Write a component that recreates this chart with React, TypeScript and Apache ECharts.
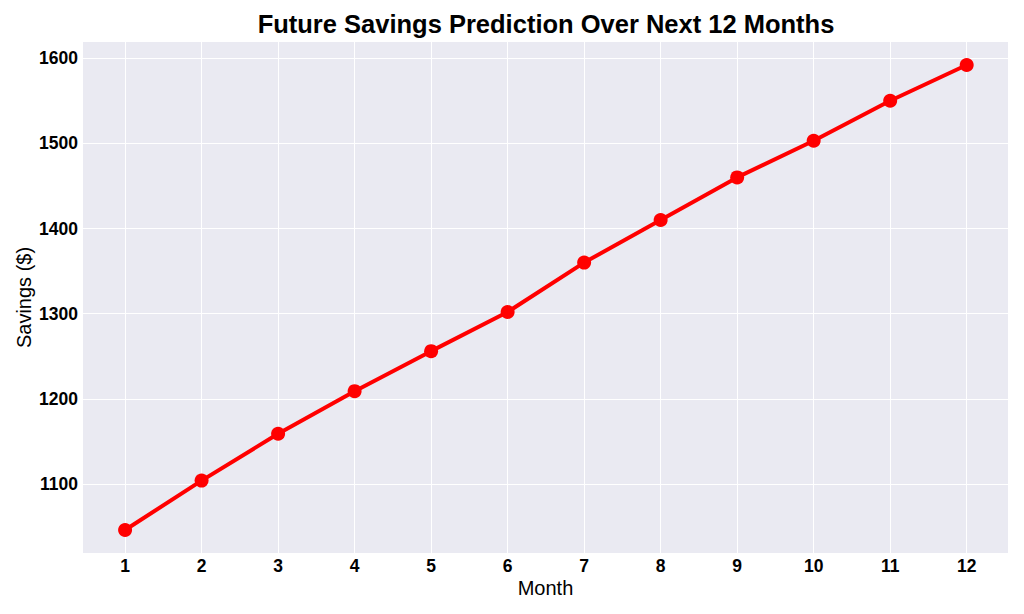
import React, { useEffect, useRef } from 'react';
import * as echarts from 'echarts';

const months = [1, 2, 3, 4, 5, 6, 7, 8, 9, 10, 11, 12];
const savings = [1046, 1104, 1159, 1209, 1256, 1302, 1360, 1410, 1460, 1503, 1550, 1592];
const xTicks = [1, 2, 3, 4, 5, 6, 7, 8, 9, 10, 11, 12];
const yTicks = [1100, 1200, 1300, 1400, 1500, 1600];

const FONT = "'Liberation Sans', Arial, sans-serif";

const App = () => {
  const chartRef = useRef(null);

  useEffect(() => {
    document.body.style.margin = '0';
    const chart = echarts.init(chartRef.current, null, { renderer: 'svg' });

    const options = {
      animation: false,
      backgroundColor: '#ffffff',
      title: {
        text: 'Future Savings Prediction Over Next 12 Months',
        left: 541,
        top: 6,
        textAlign: 'center',
        textStyle: {
          fontFamily: FONT,
          fontSize: 25.5,
          fontWeight: 'bold',
          color: '#000',
        },
      },
      grid: {
        left: 83,
        top: 42,
        right: 16,
        bottom: 61,
        show: true,
        backgroundColor: '#EAEAF2',
        borderWidth: 0,
      },
      xAxis: {
        type: 'value',
        min: 0.45,
        max: 12.54,
        name: 'Month',
        nameLocation: 'middle',
        nameGap: 25,
        nameMoveOverlap: false,
        nameTextStyle: { fontFamily: FONT, fontSize: 20, color: '#000' },
        axisLine: { show: false },
        axisTick: { show: false, customValues: xTicks },
        axisLabel: {
          customValues: xTicks,
          margin: 4,
          fontFamily: FONT,
          fontSize: 17.5,
          fontWeight: 'bold',
          color: '#000',
          formatter: (v: number) => String(v),
        },
        splitLine: { show: true, lineStyle: { color: '#ffffff', width: 1 } },
      },
      yAxis: {
        type: 'value',
        min: 1019,
        max: 1619,
        name: 'Savings ($)',
        nameLocation: 'middle',
        nameGap: 49,
        nameMoveOverlap: false,
        nameTextStyle: { fontFamily: FONT, fontSize: 20, color: '#000' },
        axisLine: { show: false },
        axisTick: { show: false, customValues: yTicks },
        axisLabel: {
          customValues: yTicks,
          margin: 5,
          fontFamily: FONT,
          fontSize: 17.5,
          fontWeight: 'bold',
          color: '#000',
          formatter: (v: number) => String(v),
        },
        splitLine: { show: true, lineStyle: { color: '#ffffff', width: 1 } },
      },
      series: [
        {
          type: 'line',
          data: months.map((m, i) => [m, savings[i]]),
          symbol: 'circle',
          symbolSize: 14,
          lineStyle: { color: '#ff0000', width: 4 },
          itemStyle: { color: '#ff0000' },
        },
      ],
    };

    chart.setOption(options);

    return () => {
      chart.dispose();
    };
  }, []);

  return <div ref={chartRef} style={{ width: '1024px', height: '614px' }}></div>;
};

export default App;
